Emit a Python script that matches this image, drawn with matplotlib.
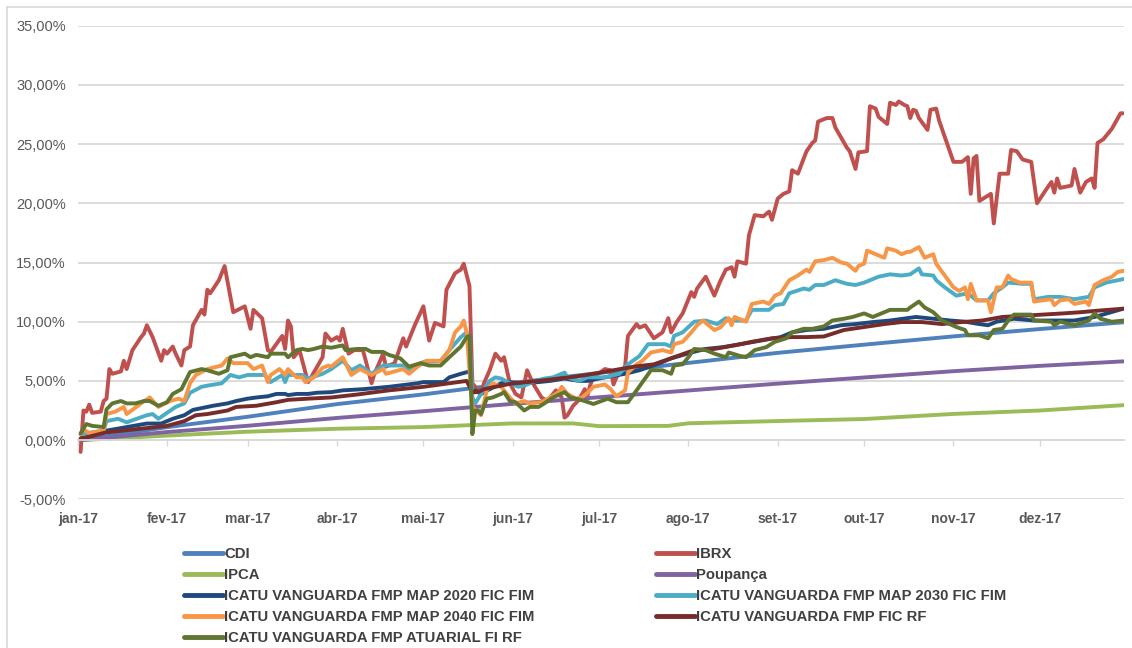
import numpy as np
import pandas as pd
import matplotlib
matplotlib.use("Agg")
import matplotlib.pyplot as plt
from matplotlib.lines import Line2D
from matplotlib.ticker import FuncFormatter

# ---------------- data (day offset from 2017-01-01, cumulative return in %) ----------------
cdi_day = [1, 31, 59, 90, 120, 151, 181, 212, 243, 273, 304, 334, 363]
cdi_val = [0.0, 1.09, 1.97, 3.04, 3.86, 4.83, 5.67, 6.52, 7.37, 8.06, 8.76, 9.38, 9.95]

poup_day = [1, 31, 59, 90, 120, 151, 181, 212, 243, 273, 304, 334, 363]
poup_val = [0.0, 0.68, 1.21, 1.87, 2.44, 3.06, 3.62, 4.19, 4.77, 5.29, 5.82, 6.27, 6.65]

ipca_day = [1, 31, 59, 90, 120, 151, 172, 181, 205, 212, 243, 273, 304, 334, 363]
ipca_val = [0.0, 0.38, 0.71, 0.96, 1.10, 1.41, 1.41, 1.18, 1.20, 1.42, 1.61, 1.78, 2.21, 2.50, 2.95]

ibrx_day = [1, 2, 3, 4, 5, 8, 9, 10, 11, 12, 15, 16, 17, 19, 22, 23, 24, 26, 29, 30, 31, 33, 34, 36,
            37, 39, 40, 43, 44, 45, 46, 49, 51, 54, 58, 60, 61, 64, 66, 67, 71, 72, 73, 74, 75, 77,
            79, 80, 81, 85, 86, 88, 90, 91, 92, 94, 96, 99, 100, 102, 103, 105, 106, 107, 110, 113,
            114, 117, 120, 122, 124, 127, 128, 131, 133, 134, 136, 137, 138, 140, 141, 143, 145, 147,
            148, 150, 152, 154, 156, 158, 161, 163, 165, 166, 168, 169, 170, 171, 172, 174, 176, 177,
            178, 179, 183, 185, 186, 187, 190, 191, 194, 195, 197, 200, 203, 205, 206, 208, 210, 213,
            214, 215, 218, 221, 223, 225, 227, 228, 229, 232, 233, 235, 238, 240, 241, 243, 245, 247,
            248, 250, 253, 255, 256, 257, 260, 262, 263, 267, 268, 270, 271, 274, 275, 277, 278, 281,
            282, 284, 285, 287, 288, 289, 290, 291, 292, 295, 296, 298, 299, 300, 304, 307, 309, 310,
            311, 312, 313, 315, 317, 318, 320, 323, 324, 326, 328, 331, 333, 336, 338, 339, 340, 341,
            345, 346, 348, 350, 352, 353, 354, 356, 359, 362, 363]
ibrx_val = [-1.0, 2.5, 2.4, 3.0, 2.3, 2.4, 3.3, 3.5, 6.0, 5.6, 5.8, 6.7, 6.0, 7.6, 8.7, 9.0, 9.7, 8.7,
            6.7, 7.6, 7.3, 7.9, 7.3, 6.3, 7.6, 7.9, 9.7, 11.0, 10.6, 12.7, 12.4, 13.5, 14.7, 10.8, 11.3,
            9.4, 11.0, 10.3, 7.6, 7.45, 8.8, 7.7, 10.1, 9.6, 7.0, 7.6, 5.75, 4.9, 5.3, 7.0, 9.0, 8.4,
            8.7, 8.4, 9.4, 7.3, 7.6, 7.6, 6.7, 4.8, 5.6, 6.7, 7.3, 6.2, 6.5, 8.6, 7.9, 9.7, 11.3, 8.4,
            9.9, 9.6, 12.7, 14.1, 14.4, 14.9, 13.0, 4.8, 4.5, 3.9, 4.8, 5.9, 7.3, 6.7, 7.0, 4.8, 3.9,
            3.6, 5.9, 4.8, 3.6, 3.3, 3.9, 4.2, 3.6, 1.9, 2.1, 2.5, 2.9, 3.4, 4.3, 3.8, 4.7, 5.3, 6.0,
            5.9, 4.7, 5.3, 6.2, 8.8, 9.8, 9.5, 9.7, 8.6, 9.1, 10.3, 9.1, 10.0, 10.7, 12.5, 12.1, 12.8,
            13.8, 12.2, 13.4, 14.4, 14.6, 13.8, 15.1, 14.9, 17.3, 19.0, 18.9, 19.3, 18.6, 20.4, 20.8,
            21.0, 22.8, 22.5, 24.4, 25.1, 25.3, 26.9, 27.2, 27.2, 26.4, 24.7, 24.4, 22.9, 24.3, 24.4,
            28.2, 28.0, 27.3, 26.7, 28.5, 28.3, 28.6, 28.3, 28.2, 27.2, 27.9, 27.8, 27.2, 26.2, 27.9,
            28.0, 27.0, 26.3, 23.5, 23.5, 23.9, 20.8, 23.8, 24.0, 20.2, 20.5, 20.8, 18.3, 22.5, 22.5,
            24.5, 24.4, 23.7, 23.5, 20.0, 21.1, 21.8, 20.9, 22.1, 21.3, 21.5, 22.9, 20.9, 21.8, 22.1,
            21.3, 25.1, 25.4, 26.3, 27.6, 27.6]

map2020_day = [1, 9, 10, 24, 29, 33, 37, 40, 47, 52, 55, 59, 62, 66, 69, 72, 73, 76, 80, 83, 88, 92,
               99, 108, 118, 120, 127, 129, 133, 136, 137, 138, 140, 143, 147, 150, 155, 160, 164,
               169, 174, 177, 183, 190, 195, 201, 206, 213, 218, 224, 230, 237, 244, 248, 253, 259,
               265, 270, 276, 282, 291, 297, 303, 308, 313, 316, 319, 325, 332, 339, 346, 353, 363]
map2020_val = [0.1, 0.7, 0.8, 1.4, 1.4, 1.8, 2.1, 2.55, 2.9, 3.1, 3.3, 3.5, 3.6, 3.7, 3.9, 3.9, 3.8,
               3.9, 3.9, 4.0, 4.05, 4.2, 4.3, 4.5, 4.8, 4.9, 4.9, 5.3, 5.6, 5.8, 4.0, 4.2, 3.9, 4.3,
               4.8, 4.9, 4.8, 4.9, 5.0, 5.2, 5.0, 5.0, 5.3, 5.6, 5.9, 6.4, 6.9, 7.4, 7.7, 7.85, 8.1,
               8.4, 8.7, 9.1, 9.3, 9.4, 9.7, 9.8, 9.97, 10.1, 10.4, 10.25, 10.1, 10.0, 9.8, 9.7, 10.0,
               10.25, 10.1, 10.1, 10.1, 10.4, 11.1]

map2030_day = [1, 9, 10, 14, 17, 24, 26, 28, 34, 37, 39, 43, 45, 50, 53, 56, 59, 65, 67, 69, 71, 72,
               73, 78, 80, 85, 88, 92, 95, 98, 102, 106, 108, 113, 115, 120, 126, 129, 133, 135, 136,
               137, 138, 140, 143, 145, 147, 150, 153, 155, 158, 162, 165, 169, 170, 174, 177, 183,
               188, 191, 195, 198, 204, 206, 207, 210, 214, 218, 222, 225, 227, 232, 234, 240, 242,
               245, 247, 252, 254, 256, 259, 263, 267, 270, 273, 276, 278, 282, 286, 289, 292, 293,
               297, 298, 301, 305, 307, 309, 312, 316, 318, 321, 323, 328, 331, 332, 337, 341, 346,
               351, 353, 357, 363]
map2030_val = [0.5, 0.8, 1.6, 1.8, 1.5, 2.1, 2.2, 1.8, 2.8, 3.1, 4.0, 4.5, 4.6, 4.8, 5.5, 5.3, 5.5,
               5.5, 4.9, 5.2, 5.5, 4.9, 5.5, 5.5, 5.2, 5.6, 6.0, 6.7, 5.9, 6.3, 5.6, 6.3, 6.3, 6.3,
               6.0, 6.6, 6.7, 7.6, 8.7, 9.1, 8.6, 3.6, 3.1, 3.9, 5.0, 5.3, 5.2, 4.8, 4.5, 4.6, 4.9,
               5.2, 5.3, 5.7, 5.3, 5.0, 5.3, 5.3, 5.6, 6.4, 7.1, 8.1, 8.1, 7.9, 8.8, 9.1, 10.0, 10.1,
               9.8, 10.3, 10.1, 10.1, 11.0, 11.0, 11.4, 11.5, 12.4, 12.8, 12.7, 13.1, 13.1, 13.5,
               13.2, 13.1, 13.3, 13.6, 13.8, 14.0, 13.9, 14.0, 14.5, 14.0, 13.9, 13.5, 12.9, 12.2,
               12.3, 12.4, 11.8, 11.8, 12.4, 12.9, 13.3, 13.2, 13.2, 11.9, 12.1, 12.1, 11.9, 12.1,
               12.9, 13.3, 13.6]

map2040_day = [1, 2, 4, 9, 10, 13, 16, 17, 22, 25, 28, 32, 35, 37, 39, 41, 45, 50, 52, 54, 59, 61,
               64, 66, 67, 70, 72, 73, 74, 76, 78, 79, 82, 85, 87, 88, 92, 95, 98, 102, 106, 107,
               113, 115, 118, 121, 126, 129, 131, 133, 134, 135, 137, 140, 142, 144, 147, 150, 152,
               155, 157, 161, 164, 167, 168, 170, 173, 175, 177, 179, 183, 185, 187, 190, 191, 194,
               196, 199, 203, 206, 207, 210, 213, 215, 217, 221, 223, 226, 227, 228, 232, 234, 238,
               240, 242, 244, 247, 250, 253, 254, 256, 259, 262, 265, 267, 270, 271, 273, 274, 277,
               280, 281, 284, 286, 288, 289, 292, 294, 297, 298, 301, 304, 306, 308, 309, 310, 312,
               316, 317, 319, 321, 323, 324, 327, 331, 332, 335, 338, 339, 341, 344, 346, 350, 351,
               353, 356, 359, 361, 363]
map2040_val = [0.5, 0.9, 0.6, 0.8, 2.2, 2.4, 2.8, 2.2, 3.1, 3.6, 2.8, 3.3, 3.5, 3.3, 4.8, 5.5, 6.0,
               6.3, 6.9, 6.5, 6.5, 6.0, 6.3, 4.9, 5.5, 6.0, 5.5, 6.0, 5.75, 5.3, 5.3, 4.9, 5.3, 6.1,
               6.3, 6.2, 7.0, 5.5, 6.0, 5.5, 6.0, 5.6, 6.0, 5.6, 6.2, 6.7, 6.7, 7.6, 9.1, 9.6, 10.1,
               9.1, 2.8, 2.1, 4.2, 4.8, 4.5, 3.6, 3.1, 3.3, 3.1, 3.2, 3.6, 4.05, 4.5, 3.9, 3.5, 3.6,
               4.0, 4.5, 4.7, 4.3, 3.7, 4.2, 5.7, 6.4, 6.7, 7.4, 7.6, 7.4, 8.1, 8.3, 9.1, 9.7, 10.1,
               9.3, 9.5, 10.3, 9.7, 10.4, 10.0, 11.5, 11.7, 11.5, 12.2, 12.4, 13.5, 13.9, 14.4, 14.2,
               15.1, 15.2, 15.4, 15.0, 14.9, 14.3, 14.7, 14.9, 16.0, 15.7, 15.4, 16.2, 16.0, 15.7,
               15.9, 15.9, 16.3, 15.4, 15.7, 14.9, 13.9, 12.9, 12.6, 12.9, 11.9, 13.2, 11.8, 11.8,
               10.8, 12.9, 12.9, 13.9, 13.6, 13.3, 13.3, 11.7, 11.8, 11.9, 11.4, 11.8, 11.9, 11.5,
               11.7, 11.4, 13.1, 13.5, 13.8, 14.2, 14.3]

ficrf_day = [1, 9, 10, 31, 37, 41, 45, 52, 55, 62, 69, 73, 80, 88, 97, 108, 120, 129, 135, 137, 139,
             141, 150, 160, 167, 174, 179, 186, 193, 200, 207, 214, 221, 228, 234, 241, 248, 253,
             259, 266, 273, 280, 286, 293, 300, 307, 314, 321, 328, 335, 342, 348, 355, 363]
ficrf_val = [0.1, 0.6, 0.65, 1.2, 1.6, 2.1, 2.2, 2.5, 2.8, 2.9, 3.2, 3.4, 3.5, 3.6, 3.85, 4.2, 4.5,
             4.8, 5.0, 4.05, 4.05, 4.3, 4.75, 5.0, 5.2, 5.4, 5.6, 5.9, 6.2, 6.4, 7.0, 7.6, 7.7, 8.0,
             8.3, 8.6, 8.7, 8.7, 8.75, 9.3, 9.55, 9.8, 9.97, 9.97, 9.8, 9.97, 10.1, 10.4, 10.5, 10.6,
             10.7, 10.8, 10.95, 11.1]

atuarial_day = [1, 3, 5, 9, 10, 12, 15, 17, 20, 23, 25, 28, 31, 33, 36, 39, 43, 45, 49, 52, 53, 58,
                60, 62, 66, 67, 72, 73, 76, 78, 80, 82, 85, 88, 92, 93, 97, 100, 102, 106, 108, 112,
                115, 119, 122, 126, 129, 133, 135, 136, 137, 138, 139, 140, 142, 144, 147, 148, 150,
                152, 155, 157, 160, 162, 165, 169, 171, 173, 176, 179, 184, 187, 191, 194, 199, 203,
                206, 207, 210, 212, 214, 218, 221, 225, 226, 230, 232, 235, 239, 242, 246, 248, 252,
                255, 259, 262, 266, 269, 273, 276, 282, 288, 289, 292, 294, 297, 300, 305, 308, 309,
                313, 316, 318, 321, 323, 325, 331, 332, 338, 339, 341, 346, 351, 353, 355, 359, 363]
atuarial_val = [0.57, 1.36, 1.2, 1.1, 2.6, 3.1, 3.3, 3.1, 3.1, 3.3, 3.3, 2.9, 3.2, 3.9, 4.3, 5.75,
                6.0, 5.9, 5.6, 5.9, 7.0, 7.3, 7.0, 7.2, 7.0, 7.3, 7.3, 7.0, 7.6, 7.7, 7.6, 7.7, 7.9,
                7.8, 8.0, 7.6, 7.7, 7.7, 7.45, 7.45, 7.2, 6.9, 6.2, 6.5, 6.3, 6.3, 7.0, 7.9, 8.7, 8.8,
                0.5, 2.5, 2.5, 2.2, 3.5, 3.6, 3.9, 4.05, 3.3, 3.2, 2.5, 2.8, 2.8, 3.1, 3.6, 4.05, 3.6,
                3.5, 3.3, 3.05, 3.5, 3.2, 3.2, 4.2, 5.9, 5.9, 5.6, 6.3, 6.4, 7.0, 7.7, 7.6, 7.3, 7.0,
                7.4, 7.1, 7.0, 7.6, 7.85, 8.3, 8.6, 9.1, 9.4, 9.4, 9.6, 10.1, 10.25, 10.4, 10.7, 10.4,
                11.0, 11.0, 11.2, 11.7, 11.2, 10.8, 10.1, 9.55, 9.3, 8.85, 8.85, 8.6, 9.3, 9.4, 10.1,
                10.6, 10.6, 10.1, 10.0, 9.7, 10.0, 9.7, 10.1, 10.7, 10.25, 10.0, 10.1]

series_names = ["CDI", "IBRX", "IPCA", "Poupança",
                "ICATU VANGUARDA FMP MAP 2020 FIC FIM",
                "ICATU VANGUARDA FMP MAP 2030 FIC FIM",
                "ICATU VANGUARDA FMP MAP 2040 FIC FIM",
                "ICATU VANGUARDA FMP FIC RF",
                "ICATU VANGUARDA FMP ATUARIAL FI RF"]
series_data = [(cdi_day, cdi_val), (ibrx_day, ibrx_val), (ipca_day, ipca_val), (poup_day, poup_val),
               (map2020_day, map2020_val), (map2030_day, map2030_val), (map2040_day, map2040_val),
               (ficrf_day, ficrf_val), (atuarial_day, atuarial_val)]
series_colors = ["#4F81BD", "#C0504D", "#9BBB59", "#8064A2", "#1F497D",
                 "#4BACC6", "#F79646", "#772C2A", "#5F7530"]

month_labels = ["jan-17", "fev-17", "mar-17", "abr-17", "mai-17", "jun-17",
                "jul-17", "ago-17", "set-17", "out-17", "nov-17", "dez-17"]
y_ticks = [-5, 0, 5, 10, 15, 20, 25, 30, 35]

# ---------------- figure ----------------
plt.rcParams['font.family'] = ['Liberation Sans', 'DejaVu Sans']
W, H = 1132, 648
fig = plt.figure(figsize=(W / 100, H / 100), dpi=100)
ax = fig.add_axes([77.7 / W, 1 - 499.3 / H, (1124 - 77.7) / W, (499.3 - 25.7) / H])

base = pd.Timestamp("2017-01-01")
handles = []
for name, (days, vals), col in zip(series_names, series_data, series_colors):
    dates = base + pd.to_timedelta(days, unit="D")
    h, = ax.plot(dates, vals, color=col, lw=2.8, solid_joinstyle="round",
                 solid_capstyle="round", label=name)
    handles.append(h)

ax.set_ylim(-5, 35)
ax.set_xlim(base, base + pd.Timedelta(days=363.2))
ax.set_yticks(y_ticks)
ax.yaxis.set_major_formatter(FuncFormatter(lambda v, p: f"{v:.2f}%".replace(".", ",")))
ax.grid(axis="y", color="#D9D9D9", lw=1.3)
ax.set_axisbelow(True)

month_pos = pd.date_range("2017-01-01", periods=12, freq="MS")
ax.set_xticks(month_pos)
ax.set_xticklabels(month_labels)

for s in ["top", "right", "left"]:
    ax.spines[s].set_visible(False)
ax.spines["bottom"].set_position(("data", 0))
ax.spines["bottom"].set_color("#D9D9D9")
ax.spines["bottom"].set_linewidth(1.3)

ax.tick_params(axis="y", length=0, pad=8.5, labelsize=10.5, labelcolor="#595959")
ax.tick_params(axis="x", direction="out", length=4, width=1, color="#D9D9D9",
               pad=48, labelsize=10, labelcolor="#595959")
for t in ax.get_xticklabels():
    t.set_fontweight("bold")

# legend (row-wise order like the original)
order = [0, 2, 4, 6, 8, 1, 3, 5, 7]
leg = fig.legend([handles[i] for i in order], [series_names[i] for i in order],
                 loc="upper left", bbox_to_anchor=(184 / W, 1 - 547.5 / H), ncol=2,
                 frameon=False, borderpad=0, borderaxespad=0,
                 handlelength=2.6, handletextpad=0.12, columnspacing=8.15,
                 labelspacing=0.47, prop={"size": 10.7, "weight": "bold"})
for t in leg.get_texts():
    t.set_color("#404040")
for l in leg.get_lines():
    l.set_linewidth(3.5)

# chart frame (top/left edges visible in the crop)
fig.add_artist(Line2D([6.7 / W, 1], [1 - 6.7 / H, 1 - 6.7 / H], transform=fig.transFigure,
                      color="#D9D9D9", lw=1.2))
fig.add_artist(Line2D([6.7 / W, 6.7 / W], [0, 1 - 6.7 / H], transform=fig.transFigure,
                      color="#D9D9D9", lw=1.2))

fig.savefig("out.png", dpi=100)
